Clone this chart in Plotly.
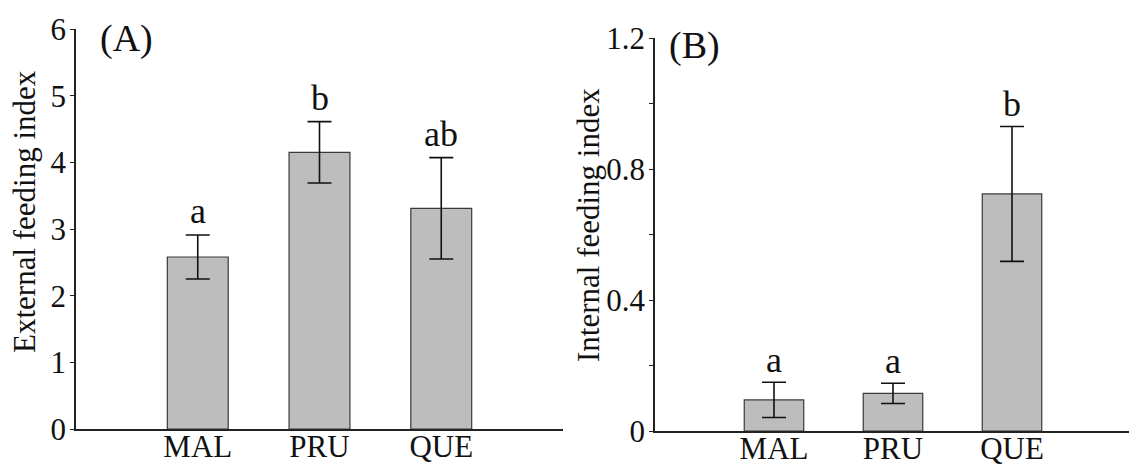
import plotly.graph_objects as go

categories = ["MAL", "PRU", "QUE"]
ext_mean = [2.58, 4.15, 3.31]
ext_err = [0.33, 0.46, 0.76]
ext_letters = ["a", "b", "ab"]
int_mean = [0.095, 0.115, 0.724]
int_err = [0.054, 0.031, 0.206]
int_letters = ["a", "a", "b"]
ext_ticks = [0, 1, 2, 3, 4, 5, 6]
int_ticks = [0, 0.2, 0.4, 0.6, 0.8, 1.0, 1.2]
int_ticklabels = ["0", "", "0.4", "", "0.8", "", "1.2"]

FONT = "Liberation Serif"
FS = 31
# page body has an 8px default margin; the figure starts at (8, 8) in the window
OFF = 8
W, H = 1137 - OFF, 466 - OFF


def fx(px):
    return (px - OFF) / W


def fy(py):
    return 1 - (py - OFF) / H


fig = go.Figure()
xpos = list(range(len(categories)))

bar_style = dict(marker=dict(color="#bdbdbd", line=dict(color="#3a3a3a", width=1.2)),
                 width=0.5, showlegend=False)

fig.add_trace(go.Bar(x=xpos, y=ext_mean, xaxis="x", yaxis="y",
                     error_y=dict(type="data", array=ext_err, color="#111111", thickness=1.6, width=12),
                     **bar_style))
fig.add_trace(go.Bar(x=xpos, y=int_mean, xaxis="x2", yaxis="y2",
                     error_y=dict(type="data", array=int_err, color="#111111", thickness=1.6, width=12),
                     **bar_style))

ax_common = dict(showgrid=False, zeroline=False, showline=True, linecolor="#222222", linewidth=1.5,
                 automargin=False, tickfont=dict(family=FONT, size=FS, color="#111111"))

fig.update_layout(
    width=W, height=H,
    margin=dict(l=0, r=0, t=0, b=0, pad=0, autoexpand=False),
    paper_bgcolor="white", plot_bgcolor="white",
    font=dict(family=FONT, size=FS, color="#111111"),
    xaxis=dict(domain=[fx(76), fx(563)], range=[-1, 3], tickmode="array", tickvals=xpos,
               ticktext=categories, ticks="", ticklabelstandoff=-11, anchor="y", **ax_common),
    yaxis=dict(domain=[fy(429), fy(29)], range=[0, 6], tickmode="array", tickvals=ext_ticks,
               ticks="outside", ticklen=4, tickcolor="#222222", ticklabelstandoff=-2,
               anchor="x", **ax_common),
    xaxis2=dict(domain=[fx(655), fx(1131)], range=[-1, 3], tickmode="array", tickvals=xpos,
                ticktext=categories, ticks="", ticklabelstandoff=-11, anchor="y2", **ax_common),
    yaxis2=dict(domain=[fy(431), fy(38)], range=[0, 1.2], tickmode="array", tickvals=int_ticks,
                ticktext=int_ticklabels, ticks="outside", ticklen=4, tickcolor="#222222",
                ticklabelstandoff=-2, anchor="x2", **ax_common),
)

annotations = []
for i, (m, e, t) in enumerate(zip(ext_mean, ext_err, ext_letters)):
    annotations.append(dict(x=i, y=m + e, xref="x", yref="y", text=t, showarrow=False,
                            yanchor="bottom", yshift=2, font=dict(family=FONT, size=36)))
for i, (m, e, t) in enumerate(zip(int_mean, int_err, int_letters)):
    annotations.append(dict(x=i, y=m + e, xref="x2", yref="y2", text=t, showarrow=False,
                            yanchor="bottom", yshift=0, font=dict(family=FONT, size=36)))
annotations += [
    dict(x=fx(126), y=fy(39), xref="paper", yref="paper", text="(A)", showarrow=False,
         xanchor="center", yanchor="middle", font=dict(family=FONT, size=38)),
    dict(x=fx(694), y=fy(45), xref="paper", yref="paper", text="(B)", showarrow=False,
         xanchor="center", yanchor="middle", font=dict(family=FONT, size=38)),
    dict(x=fx(25), y=fy(212), xref="paper", yref="paper", text="External feeding index",
         showarrow=False, textangle=-90, xanchor="center", yanchor="middle",
         font=dict(family=FONT, size=FS)),
    dict(x=fx(589), y=fy(225), xref="paper", yref="paper", text="Internal feeding index",
         showarrow=False, textangle=-90, xanchor="center", yanchor="middle",
         font=dict(family=FONT, size=FS)),
]
fig.update_layout(annotations=annotations)

fig.write_html("out.html")
